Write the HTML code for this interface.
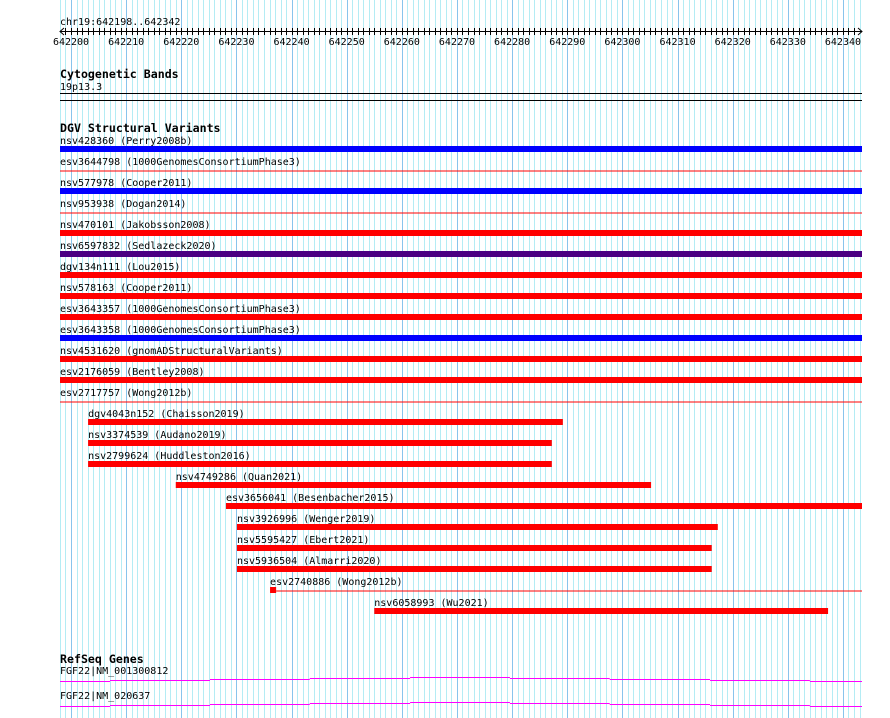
<!DOCTYPE html>
<html><head><meta charset="utf-8"><style>
html,body{margin:0;padding:0;background:#fff;}
svg{display:block;}
text{font-family:"DejaVu Sans Mono","Liberation Mono",monospace;font-size:10px;fill:#000;}
.ttl{font-weight:bold;font-size:11.6px;}
</style></head><body>
<svg id="chart" width="890" height="718" viewBox="0 0 890 718" xmlns="http://www.w3.org/2000/svg">
<g id="grid"></g>
<g id="ruler"></g>
<text x="60" y="78" class="ttl">Cytogenetic Bands</text>
<text x="60" y="90">19p13.3</text>
<line x1="60" x2="862" y1="93.5" y2="93.5" stroke="#000"/>
<line x1="60" x2="862" y1="100.5" y2="100.5" stroke="#000"/>
<text x="60" y="132" class="ttl">DGV Structural Variants</text>
<g id="dgv"></g>
<text x="60" y="663" class="ttl">RefSeq Genes</text>
<g id="genes"></g>
</svg>
<script>
const chromStart = 642198;
const chromEnd = 642344;
const tickLabels = [642200,642210,642220,642230,642240,642250,642260,642270,642280,642290,642300,642310,642320,642330,642340];
const svNames = ["nsv428360 (Perry2008b)","esv3644798 (1000GenomesConsortiumPhase3)","nsv577978 (Cooper2011)","nsv953938 (Dogan2014)","nsv470101 (Jakobsson2008)","nsv6597832 (Sedlazeck2020)","dgv134n111 (Lou2015)","nsv578163 (Cooper2011)","esv3643357 (1000GenomesConsortiumPhase3)","esv3643358 (1000GenomesConsortiumPhase3)","nsv4531620 (gnomADStructuralVariants)","esv2176059 (Bentley2008)","esv2717757 (Wong2012b)","dgv4043n152 (Chaisson2019)","nsv3374539 (Audano2019)","nsv2799624 (Huddleston2016)","nsv4749286 (Quan2021)","esv3656041 (Besenbacher2015)","nsv3926996 (Wenger2019)","nsv5595427 (Ebert2021)","nsv5936504 (Almarri2020)","esv2740886 (Wong2012b)","nsv6058993 (Wu2021)"];
const svStarts = [642198,642198,642198,642198,642198,642198,642198,642198,642198,642198,642198,642198,642198,642203.1,642203.1,642203.1,642219,642228.1,642230.1,642230.1,642230.1,642236.1,642255];
const svEnds = [642344,642344,642344,642344,642344,642344,642344,642344,642344,642344,642344,642344,642344,642289.2,642287.2,642287.2,642305.2,642344,642317.3,642316.2,642316.2,642237.2,642337.3];
const svColors = ["blue","red","blue","red","red","indigo","red","red","red","blue","red","red","red","red","red","red","red","red","red","red","red","red","red"];
const svThin = [0,1,0,1,0,0,0,0,0,0,0,0,1,0,0,0,0,0,0,0,0,2,0];
const geneNames = ["FGF22|NM_001300812","FGF22|NM_020637"];
const exonBreaks = [642198,642207.07,642225.2,642243.3,642261.5,642279.6,642297.7,642315.9,642334.0,642344];
const exonOffsets = [4,3,2,1,0,1,2,3,4];

const NS="http://www.w3.org/2000/svg";
const x = bp => 71 + (bp-642200)*5.514;
const X0 = 60, X1 = 862;
function mk(tag, attrs, parent, txt){const e=document.createElementNS(NS,tag);for(const k in attrs)e.setAttribute(k,attrs[k]);if(txt!==undefined)e.textContent=txt;parent.appendChild(e);return e;}
const colorMap={blue:"#0000ff",red:"#ff0000",indigo:"#4b0082"};

const grid=document.getElementById('grid');
for(let b=642198;b<=642343;b++){
  const xx=Math.round(x(b))+0.5;
  if(xx>862) break;
  const major=b%10===0;
  const l=mk('line',{x1:xx,x2:xx,y1:0,y2:718,stroke:major?'#88c4ec':'#b4ecf4','stroke-width':1},grid);
  
  
}

const ruler=document.getElementById('ruler');
const t0=mk('text',{x:60,y:25},ruler,'chr19:642198..642342');


const al=mk('line',{x1:X0,x2:X1,y1:31.5,y2:31.5,stroke:'#000'},ruler);


mk('path',{d:`M${X0+4},28 L${X0},31.5 L${X0+4},35 M${X1-4},28 L${X1},31.5 L${X1-4},35`,stroke:'#000',fill:'none'},ruler);
for(let b=642199;b<=642342;b++){
  const xx=Math.round(x(b))+0.5;
  if(xx>858) break;
  const tk=mk('line',{x1:xx,x2:xx,y1:28,y2:35,stroke:'#000'},ruler);
  
  
}
tickLabels.forEach(v=>{
  const t=mk('text',{x:x(v),y:45,'text-anchor':'middle'},ruler,String(v));
  
  
});

const dgv=document.getElementById('dgv');
svNames.forEach((n,i)=>{
  const y=149+i*21;
  const xs=Math.max(x(svStarts[i]),60), xe=Math.min(x(svEnds[i]),862);
  const c=colorMap[svColors[i]];
  const g=mk('g',{},dgv);
  
  
  const t=mk('text',{x:xs,y:y-5},g,n);
  
  
  if(svThin[i]===1){
    mk('rect',{x:xs,y:y+0.5,width:xe-xs,height:1,fill:c},g);
  } else if(svThin[i]===2){
    mk('rect',{x:xs,y:y-3,width:xe-xs,height:6,fill:c},g);
    mk('rect',{x:xe,y:y+0.5,width:862-xe,height:1,fill:c},g);
  } else {
    mk('rect',{x:xs,y:y-3,width:xe-xs,height:6,fill:c},g);
  }
});

const genes=document.getElementById('genes');
geneNames.forEach((n,gi)=>{
  const base=677+gi*25;
  const g=mk('g',{},genes);
  
  
  const t=mk('text',{x:60,y:base-3},g,n);
  
  
  for(let k=0;k<exonOffsets.length;k++){
    const x1=Math.max(x(exonBreaks[k]),60), x2=Math.min(x(exonBreaks[k+1]),862);
    mk('line',{x1:x1,x2:x2,y1:base+exonOffsets[k]+0.5,y2:base+exonOffsets[k]+0.5,stroke:'#ff00ff'},g);
  }
});
</script>
</body></html>
